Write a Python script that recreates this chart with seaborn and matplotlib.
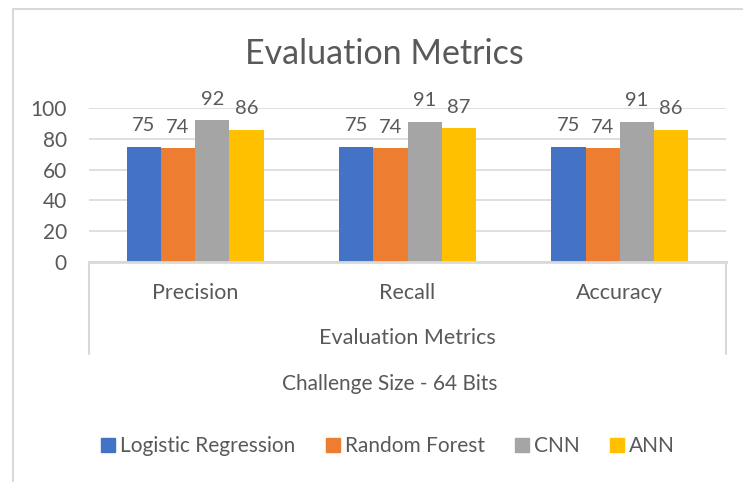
import pandas as pd
import seaborn as sns
import matplotlib.pyplot as plt
from matplotlib.lines import Line2D
from matplotlib.patches import Rectangle

# chart values
metrics = ["Precision", "Recall", "Accuracy"]
models = ["Logistic Regression", "Random Forest", "CNN", "ANN"]
logistic = [75, 75, 75]
forest = [74, 74, 74]
cnn = [92, 91, 91]
ann = [86, 87, 86]
colors = ["#4472C4", "#ED7D31", "#A5A5A5", "#FFC000"]

rows = []
for name, vals in zip(models, [logistic, forest, cnn, ann]):
    for m, v in zip(metrics, vals):
        rows.append({"metric": m, "model": name, "value": v})
df = pd.DataFrame(rows)

W, H = 743, 482
sns.set_theme(style="white")
plt.rcParams["font.family"] = ["Lato", "DejaVu Sans"]
text_col = "#595959"
line_col = "#D9D9D9"

def fx(x):
    return x / W

def fy(y):
    return 1 - y / H

fig = plt.figure(figsize=(W / 100, H / 100), dpi=100)
ax = fig.add_axes([fx(89), fy(262), fx(726) - fx(89), fy(108) - fy(262)])

sns.barplot(data=df, x="metric", y="value", hue="model", palette=colors,
            width=0.645, gap=0, saturation=1, linewidth=0, ax=ax)

for c in ax.containers:
    ax.bar_label(c, padding=9, fontsize=14.5, color=text_col)

ax.set_ylim(0, 100)
ax.set_xlim(-0.5, 2.5)
ax.set_yticks([0, 20, 40, 60, 80, 100])
ax.yaxis.grid(True, color=line_col, linewidth=1.2)
ax.set_axisbelow(True)
for s in ["left", "right", "top"]:
    ax.spines[s].set_visible(False)
ax.spines["bottom"].set_color(line_col)
ax.spines["bottom"].set_linewidth(2)
ax.tick_params(axis="y", length=0, pad=16, labelsize=15, labelcolor=text_col)
ax.tick_params(axis="x", length=0, pad=15, labelsize=15.5, labelcolor=text_col)
ax.set_xlabel("")
ax.set_ylabel("")
ax.get_legend().remove()

# category box lines below the axis
for x in (89, 726):
    fig.add_artist(Line2D([fx(x), fx(x)], [fy(262), fy(354)], color=line_col, lw=1.5))

fig.text(fx(407), fy(338), "Evaluation Metrics", ha="center", va="center",
         fontsize=15.5, color=text_col)
fig.text(fx(384), fy(54), "Evaluation Metrics", ha="center", va="center",
         fontsize=24.5, color=text_col)
fig.text(fx(390), fy(384), "Challenge Size - 64 Bits", ha="center", va="center",
         fontsize=15, color=text_col)

# chart border (only left and top visible in the crop)
fig.add_artist(Rectangle((fx(13), -0.1), 1.2, fy(9) + 0.1, transform=fig.transFigure,
                         fill=False, edgecolor=line_col, lw=1.5))

handles = [Rectangle((0, 0), 1, 1, color=c) for c in colors]
fig.legend(handles, models, loc="center", bbox_to_anchor=(fx(388), fy(446)),
           ncol=4, frameon=False, fontsize=15, labelcolor=text_col,
           handlelength=0.67, handleheight=0.67, handletextpad=0.25,
           columnspacing=1.45, borderaxespad=0, borderpad=0)

fig.savefig("out.png", dpi=100)
